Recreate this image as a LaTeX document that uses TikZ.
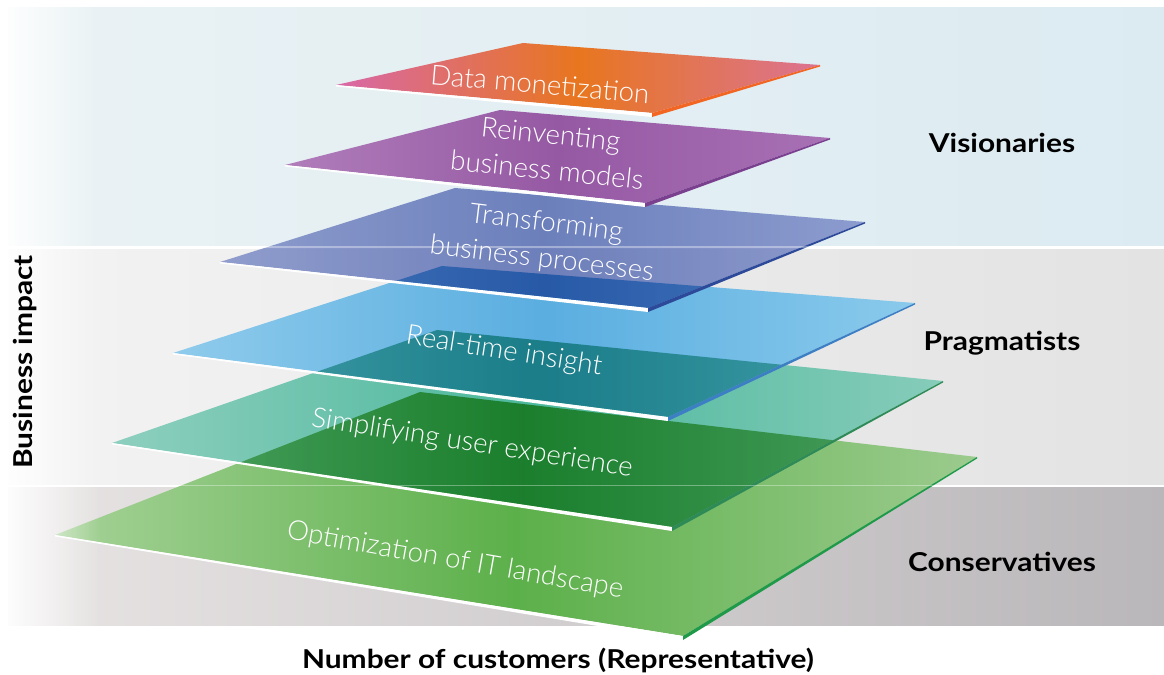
\documentclass[tikz,border=0pt]{standalone}
\usepackage{fontspec}
\setmainfont{Lato}[BoldFont={Lato Bold}]
\newfontfamily\lightfont{Lato Light}
\newfontfamily\labelfont{Lato Bold}[FakeStretch=1.15]
\usetikzlibrary{calc,fadings}
\tikzfading[name=fadeR, left color=transparent!0, right color=transparent!100]
\definecolor{bandTopL}{HTML}{EAF2F4}
\definecolor{bandTopR}{HTML}{DCEBF2}
\definecolor{bandMidL}{HTML}{F4F3F3}
\definecolor{bandMidR}{HTML}{E3E3E3}
\definecolor{bandBotL}{HTML}{E8E4E4}
\definecolor{bandBotR}{HTML}{BAB7BA}
\definecolor{pA1}{HTML}{D868A8}\definecolor{pA2}{HTML}{E8761F}\definecolor{pA3}{HTML}{DB7392}\definecolor{pAe}{HTML}{F26522}
\definecolor{pB1}{HTML}{B07DBA}\definecolor{pB2}{HTML}{9559A3}\definecolor{pB3}{HTML}{A870B5}\definecolor{pBe}{HTML}{7B3F8F}
\definecolor{pC1}{HTML}{7888C4}\definecolor{pC2}{HTML}{4E64AE}\definecolor{pC3}{HTML}{7888C6}\definecolor{pCe}{HTML}{2D4A9A}
\definecolor{pD1}{HTML}{8FCBEC}\definecolor{pD2}{HTML}{5AAEE0}\definecolor{pD3}{HTML}{8ACAEC}\definecolor{pDe}{HTML}{3C7FC4}
\definecolor{pE1}{HTML}{8ECFBF}\definecolor{pE2}{HTML}{4DB89C}\definecolor{pE3}{HTML}{86CCBA}\definecolor{pEe}{HTML}{2E8B57}
\definecolor{pF1}{HTML}{A6D298}\definecolor{pF2}{HTML}{5CB04A}\definecolor{pF3}{HTML}{9CCB8E}\definecolor{pFe}{HTML}{1E9A48}
\newcommand\myplane[9]{%
  \shade[blend mode=multiply, opacity=#9, left color=#5, right color=#7, middle color=#6] (#1) -- (#2) -- (#3) -- (#4) -- cycle;
  \fill[white] (#1) -- (#4) -- ($(#4)+(0,4)$) -- ($(#1)+(0,1.5)$) -- cycle;
  \fill[#8] (#4) -- (#3) -- ($(#3)+(0,1.5)$) -- ($(#4)+(0,4)$) -- cycle;
}
\tikzset{
  planetext/.style={text=white, font=\lightfont\fontsize{13.8}{18}\selectfont, align=center, inner sep=0pt},
  grouplabel/.style={font=\labelfont\fontsize{13}{15}\selectfont, text=black, inner sep=0pt},
  axislabel/.style={font=\labelfont\fontsize{13}{15}\selectfont, text=black, inner sep=0pt},
  bandline/.style={white, opacity=0.35, line width=0.8pt}
}
\begin{document}
\begin{tikzpicture}[x=0.5pt,y=-0.5pt]
\useasboundingbox (0,0) rectangle (1164,675);
\fill[white] (0,0) rectangle (1164,675);
% bands
\shade[left color=bandTopL, right color=bandTopR] (8,7) rectangle (1164,245);
\shade[left color=bandMidL, right color=bandMidR] (8,249) rectangle (1164,484);
\shade[left color=bandBotL, right color=bandBotR] (8,487) rectangle (1164,625);
% corners
\coordinate (fL) at (55,535);  \coordinate (fT) at (420,392); \coordinate (fR) at (977,457); \coordinate (fB) at (683,636);
\coordinate (eL) at (112,443); \coordinate (eT) at (437,330); \coordinate (eR) at (943,381); \coordinate (eB) at (672,527);
\coordinate (dL) at (173,353); \coordinate (dT) at (442,266); \coordinate (dR) at (915,303); \coordinate (dB) at (668,417);
\coordinate (cL) at (220,262); \coordinate (cT) at (455,188); \coordinate (cR) at (865,222); \coordinate (cB) at (648,308);
\coordinate (bL) at (285,165); \coordinate (bT) at (500,110); \coordinate (bR) at (830,138); \coordinate (bB) at (645,203);
\coordinate (aL) at (336,85);  \coordinate (aT) at (523,43);  \coordinate (aR) at (820,65);  \coordinate (aB) at (652,113);
\begin{scope}[transparency group]
\myplane{fL}{fT}{fR}{fB}{pF1}{pF2}{pF3}{pFe}{1}
\myplane{eL}{eT}{eR}{eB}{pE1}{pE2}{pE3}{pEe}{1}
\myplane{dL}{dT}{dR}{dB}{pD1}{pD2}{pD3}{pDe}{1}
\myplane{cL}{cT}{cR}{cB}{pC1}{pC2}{pC3}{pCe}{0.8}
\myplane{bL}{bT}{bR}{bB}{pB1}{pB2}{pB3}{pBe}{1}
\myplane{aL}{aT}{aR}{aB}{pA1}{pA2}{pA3}{pAe}{1}
\end{scope}
% faint band boundaries seen through the planes
\draw[bandline] (100,247) -- (1164,247);
\draw[bandline] (100,485.5) -- (1164,485.5);
% left fade
\fill[white, path fading=fadeR] (0,5) rectangle (100,627);
% plane texts
\node[planetext, rotate=-5] (tA) at (540,84) {Data monetization};
\node[planetext, rotate=-6] (tB) at (549,152) {Reinventing\\business models};
\node[planetext, rotate=-7] (tC) at (544,242) {Transforming\\business processes};
\node[planetext, rotate=-9] (tD) at (504,352) {Real-time insight};
\node[planetext, rotate=-9] (tE) at (472,444) {Simplifying user experience};
\node[planetext, rotate=-10] (tF) at (455,561) {Optimization of IT landscape};
% group labels
\node[grouplabel] (gV) at (1002,143) {Visionaries};
\node[grouplabel] (gP) at (1002,343) {Pragmatists};
\node[grouplabel] (gC) at (1002,562) {Conservatives};
\node[axislabel, rotate=90] (yax) at (25,362) {Business impact};
\node[axislabel] (xax) at (558,660) {Number of customers (Representative)};
\end{tikzpicture}
\end{document}
